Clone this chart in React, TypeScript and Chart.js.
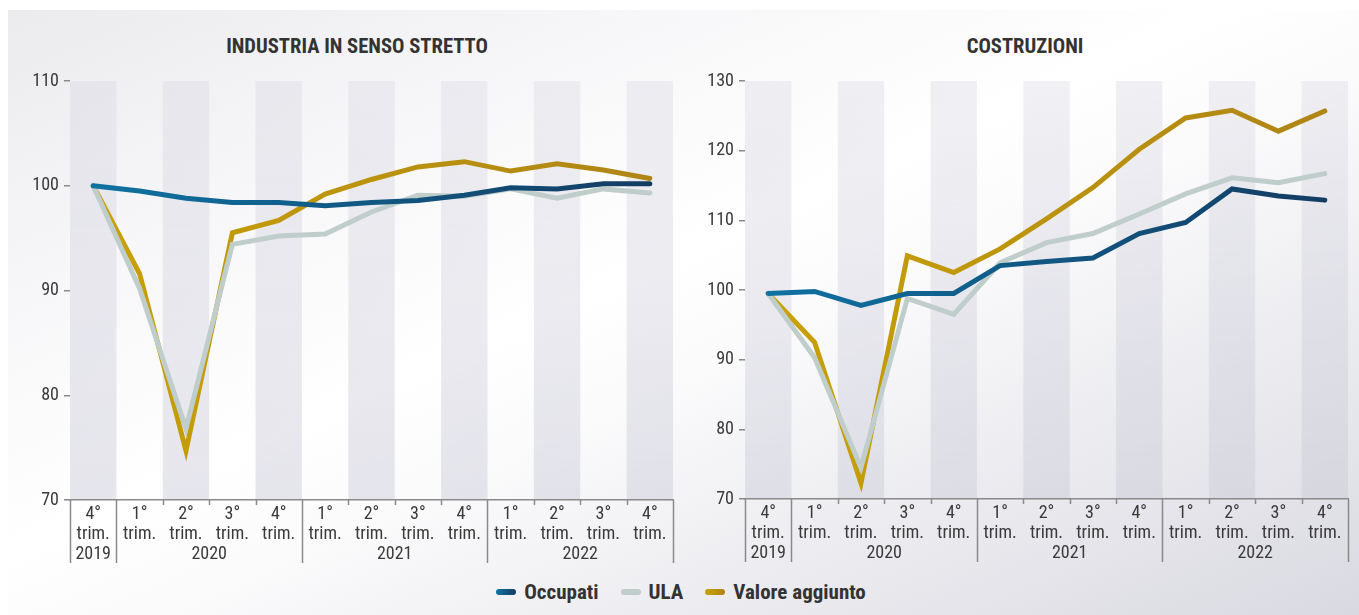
import React, { useEffect, useRef } from "react";
import { Chart, registerables } from "chart.js";

Chart.register(...registerables);

const FONT = '"Roboto Condensed", "Liberation Sans Narrow", "Arial Narrow", "DejaVu Sans Condensed", sans-serif';

// ---- data ----
const quarterLabels: string[][] = [
  ["4°", "trim."],
  ["1°", "trim."], ["2°", "trim."], ["3°", "trim."], ["4°", "trim."],
  ["1°", "trim."], ["2°", "trim."], ["3°", "trim."], ["4°", "trim."],
  ["1°", "trim."], ["2°", "trim."], ["3°", "trim."], ["4°", "trim."],
];
const yearLabels = ["2019", "2020", "2021", "2022"];
const yearSpans = [1, 4, 4, 4];

const seriesNames = ["Occupati", "ULA", "Valore aggiunto"];

const industriaOccupati = [100, 99.5, 98.8, 98.4, 98.4, 98.1, 98.4, 98.6, 99.1, 99.8, 99.7, 100.2, 100.2];
const industriaULA = [100, 90.2, 76.8, 94.4, 95.2, 95.4, 97.5, 99.1, 99.0, 99.7, 98.8, 99.7, 99.3];
const industriaValore = [100, 91.6, 74.7, 95.5, 96.7, 99.2, 100.6, 101.8, 102.3, 101.4, 102.1, 101.5, 100.7];

const costruzioniOccupati = [99.5, 99.8, 97.8, 99.5, 99.5, 103.5, 104.1, 104.6, 108.1, 109.7, 114.5, 113.5, 112.9];
const costruzioniULA = [99.5, 90.3, 74.5, 98.8, 96.5, 103.9, 106.8, 108.1, 110.9, 113.8, 116.1, 115.4, 116.7];
const costruzioniValore = [99.5, 92.5, 72.3, 104.9, 102.5, 105.9, 110.2, 114.7, 120.2, 124.7, 125.8, 122.8, 125.7];

const industriaTicks = { min: 70, max: 110, step: 10 };
const costruzioniTicks = { min: 70, max: 130, step: 10 };

// ---- styles ----
const TEXT = "#3a3a3a";
const AXIS = "#8a8a8a";
const OCC_START = "#0f74a4";
const OCC_END = "#143a60";
const ULA_COLOR = "#bfcdcb";
const VAL_START = "#c9a202";
const VAL_END = "#ae8417";

function hGradient(chart: any, c1: string, c2: string, fallback: string) {
  const area = chart.chartArea;
  if (!area) return fallback;
  const g = chart.ctx.createLinearGradient(area.left, 0, area.right, 0);
  g.addColorStop(0, c1);
  g.addColorStop(1, c2);
  return g;
}

const decorPlugin = {
  id: "decor",
  beforeDraw(chart: any) {
    const { ctx, chartArea, scales } = chart;
    const x = scales.x;
    const n = chart.data.labels.length;
    const half = (x.getPixelForValue(1) - x.getPixelForValue(0)) / 2;
    const g = ctx.createLinearGradient(0, chartArea.top, 0, chartArea.bottom);
    g.addColorStop(0, "rgba(205,205,218,0.28)");
    g.addColorStop(1, "rgba(205,205,218,0.5)");
    ctx.save();
    ctx.fillStyle = g;
    for (let i = 0; i < n; i += 2) {
      const c = x.getPixelForValue(i);
      ctx.fillRect(c - half, chartArea.top, half * 2, chartArea.bottom - chartArea.top);
    }
    ctx.restore();
  },
  afterDraw(chart: any) {
    const { ctx, chartArea, scales } = chart;
    const x = scales.x;
    const n = chart.data.labels.length;
    const half = (x.getPixelForValue(1) - x.getPixelForValue(0)) / 2;
    const y0 = chartArea.bottom;
    ctx.save();
    ctx.strokeStyle = AXIS;
    ctx.lineWidth = 1.5;
    const yearBoundaries = new Set<number>();
    let acc = 0;
    yearBoundaries.add(0);
    for (const s of yearSpans) {
      acc += s;
      yearBoundaries.add(acc);
    }
    for (let b = 0; b <= n; b++) {
      const px = Math.round(x.getPixelForValue(b) - half) + 0.5;
      const len = yearBoundaries.has(b) ? 63 : 5;
      ctx.beginPath();
      ctx.moveTo(px, y0);
      ctx.lineTo(px, y0 + len);
      ctx.stroke();
    }
    ctx.fillStyle = TEXT;
    ctx.font = `18px ${FONT}`;
    ctx.textAlign = "center";
    ctx.textBaseline = "middle";
    let start = 0;
    yearLabels.forEach((yl, i) => {
      const end = start + yearSpans[i];
      const l = x.getPixelForValue(start) - half;
      const r = x.getPixelForValue(end - 1) + half;
      ctx.fillText(yl, (l + r) / 2, y0 + 54);
      start = end;
    });
    ctx.restore();
  },
};

interface PanelProps {
  occ: number[];
  ula: number[];
  val: number[];
  ticks: { min: number; max: number; step: number };
  yAxisWidth: number;
  padRight: number;
  width: number;
  height: number;
  xAxisHeight: number;
}

function Panel(props: PanelProps) {
  const ref = useRef<HTMLCanvasElement | null>(null);
  useEffect(() => {
    if (!ref.current) return;
    const chart = new Chart(ref.current, {
      type: "line",
      data: {
        labels: quarterLabels,
        datasets: [
          {
            label: seriesNames[0],
            data: props.occ,
            borderColor: (c: any) => hGradient(c.chart, OCC_START, OCC_END, OCC_START),
            borderWidth: 5,
            pointRadius: 0,
            borderCapStyle: "round",
            tension: 0,
          },
          {
            label: seriesNames[1],
            data: props.ula,
            borderColor: ULA_COLOR,
            borderWidth: 5,
            pointRadius: 0,
            borderCapStyle: "round",
            tension: 0,
          },
          {
            label: seriesNames[2],
            data: props.val,
            borderColor: (c: any) => hGradient(c.chart, VAL_START, VAL_END, VAL_START),
            borderWidth: 5,
            pointRadius: 0,
            borderCapStyle: "round",
            tension: 0,
          },
        ],
      },
      options: {
        responsive: false,
        animation: false,
        devicePixelRatio: 1,
        layout: { padding: { top: 81, right: props.padRight, left: 0, bottom: 0 } },
        plugins: { legend: { display: false }, title: { display: false }, tooltip: { enabled: false } },
        scales: {
          x: {
            type: "category",
            offset: true,
            grid: { display: false, drawTicks: false },
            border: { display: true, color: AXIS, width: 1.5 },
            ticks: {
              color: TEXT,
              font: { family: FONT, size: 18, lineHeight: 1.1 },
              padding: 5,
              maxRotation: 0,
              autoSkip: false,
            },
            afterFit: (s: any) => {
              s.height = props.xAxisHeight;
            },
          },
          y: {
            min: props.ticks.min,
            max: props.ticks.max,
            grid: { drawOnChartArea: false, drawTicks: true, tickLength: 6, color: AXIS, lineWidth: 1.5 },
            border: { display: false },
            ticks: {
              stepSize: props.ticks.step,
              color: TEXT,
              font: { family: FONT, size: 18 },
              padding: 5,
            },
            afterFit: (s: any) => {
              s.width = props.yAxisWidth;
            },
          },
        },
      },
      plugins: [decorPlugin],
    } as any);
    return () => chart.destroy();
  }, []);
  return (
    <canvas
      ref={ref}
      width={props.width}
      height={props.height}
      style={{ width: props.width, height: props.height, display: "block" }}
    />
  );
}

const titleStyle: React.CSSProperties = {
  position: "absolute",
  top: 33,
  width: 500,
  textAlign: "center",
  fontFamily: FONT,
  fontWeight: 700,
  fontSize: 20.6,
  lineHeight: "26px",
  color: "#333",
};

function LegendItem({ label, swatch, last }: { label: string; swatch: string; last?: boolean }) {
  return (
    <div style={{ display: "flex", alignItems: "center", marginRight: last ? 0 : 22 }}>
      <div style={{ width: 20, height: 6, borderRadius: 3, background: swatch, marginRight: 8 }} />
      <span style={{ fontFamily: FONT, fontWeight: 700, fontSize: 21, color: "#333" }}>{label}</span>
    </div>
  );
}

export default function App() {
  return (
    <div style={{ position: "absolute", left: 0, top: 0, width: 1359, height: 615, background: "#fff", overflow: "hidden" }}>
      <div
        style={{
          position: "absolute",
          left: 8,
          top: 10,
          right: 0,
          bottom: 0,
          background:
            "linear-gradient(to bottom right, #ebebee 0%, #f6f6f8 22%, #ffffff 45%, #fbfbfc 55%, #ececf0 75%, #d9d9e1 100%)",
        }}
      />
      <div style={{ ...titleStyle, left: 357 - 250 }}>INDUSTRIA IN SENSO STRETTO</div>
      <div style={{ ...titleStyle, left: 1025 - 250 }}>COSTRUZIONI</div>
      <div style={{ position: "absolute", left: 0, top: 0 }}>
        <Panel
          occ={industriaOccupati}
          ula={industriaULA}
          val={industriaValore}
          ticks={industriaTicks}
          yAxisWidth={70}
          padRight={7}
          width={680}
          height={575}
          xAxisHeight={75}
        />
      </div>
      <div style={{ position: "absolute", left: 680, top: 0 }}>
        <Panel
          occ={costruzioniOccupati}
          ula={costruzioniULA}
          val={costruzioniValore}
          ticks={costruzioniTicks}
          yAxisWidth={65}
          padRight={11}
          width={679}
          height={575}
          xAxisHeight={76}
        />
      </div>
      <div
        style={{
          position: "absolute",
          left: 0,
          width: 1362,
          top: 578,
          height: 28,
          display: "flex",
          justifyContent: "center",
          alignItems: "center",
        }}
      >
        <LegendItem label={seriesNames[0]} swatch={`linear-gradient(to right, ${OCC_START}, ${OCC_END})`} />
        <LegendItem label={seriesNames[1]} swatch={ULA_COLOR} />
        <LegendItem label={seriesNames[2]} swatch={`linear-gradient(to right, ${VAL_START}, ${VAL_END})`} last />
      </div>
    </div>
  );
}
